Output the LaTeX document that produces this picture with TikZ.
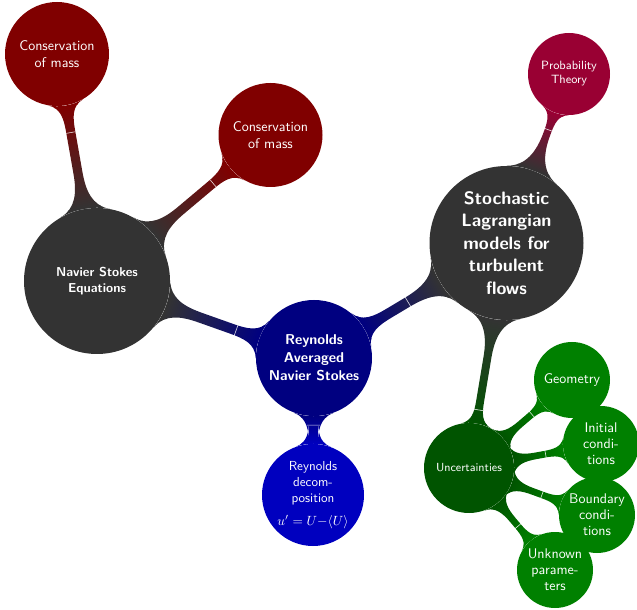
\documentclass[tikz,border=0pt]{standalone}
\usetikzlibrary{mindmap,calc}
\definecolor{ransblue}{RGB}{0,0,128}
\definecolor{decompblue}{RGB}{0,0,191}
\definecolor{coregray}{RGB}{51,51,51}
\definecolor{massred}{RGB}{128,0,0}
\definecolor{probpurple}{RGB}{153,0,51}
\definecolor{uncgreen}{RGB}{0,84,0}
\definecolor{leafgreen}{RGB}{0,128,0}
% thin light seam across a connection bar:
% #1 name, #2 parent, #3 fraction, #4 child, #5 half bar width
\newcommand{\seamtick}[5]{%
  \coordinate (#1) at ($(#2)!#3!(#4)$);
  \draw[seam] ($(#1)!#5!90:(#4)$) -- ($(#1)!#5!-90:(#4)$);}
\begin{document}
\begin{tikzpicture}[x=0.75pt,y=-0.75pt,
  bubble/.style={circle,inner sep=0pt,text=white,align=center,font=\sffamily},
  hub/.style={bubble,font=\sffamily\bfseries\fontsize{10.7}{13.5}\selectfont},
  leaf/.style={bubble,fill=leafgreen,minimum size=57pt,font=\sffamily\fontsize{10.5}{12}\selectfont},
  mass/.style={bubble,fill=massred,minimum size=78pt,font=\sffamily\fontsize{10.5}{12.75}\selectfont},
  wide bar/.style={line width=10pt},
  thin bar/.style={line width=6.75pt},
  seam/.style={draw=white,line width=0.45pt,opacity=0.85}]
\useasboundingbox (0,0) rectangle (637,610);

% concepts
\node[hub,fill=ransblue,minimum size=87pt] (rans) at (314,358) {Reynolds\\Averaged\\Navier Stokes};
\node[bubble,fill=decompblue,minimum size=76.5pt,font=\sffamily\fontsize{9.8}{12}\selectfont] (decomp) at (313,495)
  {Reynolds\\decom-\\position\\[5pt]$u'=U{-}\langle U\rangle$};
\node[hub,fill=coregray,minimum size=109.5pt,font=\sffamily\bfseries\fontsize{9.7}{12}\selectfont] (navier) at (97,281) {Navier Stokes\\Equations};
\node[mass] (massA) at (57,54) {Conservation\\of mass};
\node[mass] (massB) at (270.5,135) {Conservation\\of mass};
\node[hub,fill=coregray,minimum size=115.5pt,font=\sffamily\bfseries\fontsize{13.5}{16.9}\selectfont] (stoch) at (506.5,243)
  {Stochastic\\Lagrangian\\models for\\turbulent\\flows};
\node[bubble,fill=probpurple,minimum size=61.5pt,font=\sffamily\fontsize{9}{10.5}\selectfont] (prob) at (569,74) {Probability\\Theory};
\node[bubble,fill=uncgreen,minimum size=67.5pt,font=\sffamily\fontsize{8.8}{11}\selectfont] (unc) at (469,468) {Uncertainties};
\node[leaf] (geo) at (572,380) {Geometry};
\node[leaf] (init) at (601,444) {Initial\\condi-\\tions};
\node[leaf] (bound) at (597,515) {Boundary\\condi-\\tions};
\node[leaf] (unknown) at (555,570) {Unknown\\parame-\\ters};

% connections from the root
\begin{scope}[wide bar]
\path (rans) to[circle connection bar switch color=from (ransblue) to (coregray)] (navier);
\path (rans) to[circle connection bar switch color=from (ransblue) to (coregray)] (stoch);
\path (rans) to[circle connection bar switch color=from (ransblue) to (decompblue)] (decomp);
\end{scope}
% deeper connections
\begin{scope}[thin bar]
\path (navier) to[circle connection bar switch color=from (coregray) to (massred)] (massA);
\path (navier) to[circle connection bar switch color=from (coregray) to (massred)] (massB);
\path (stoch) to[circle connection bar switch color=from (coregray) to (probpurple)] (prob);
\path (stoch) to[circle connection bar switch color=from (coregray) to (uncgreen)] (unc);
\path (unc) to[circle connection bar switch color=from (uncgreen) to (leafgreen)] (geo);
\path (unc) to[circle connection bar switch color=from (uncgreen) to (leafgreen)] (init);
\path (unc) to[circle connection bar switch color=from (uncgreen) to (leafgreen)] (bound);
\path (unc) to[circle connection bar switch color=from (uncgreen) to (leafgreen)] (unknown);
\end{scope}

% seams across the bars
\seamtick{s1}{rans}{0.359}{navier}{5pt}
\seamtick{s2}{rans}{0.488}{stoch}{5pt}
\seamtick{s3}{rans}{0.49}{decomp}{5pt}
\seamtick{s4}{navier}{0.654}{massA}{3.4pt}
\seamtick{s5}{navier}{0.669}{massB}{3.4pt}
\seamtick{s6}{stoch}{0.67}{prob}{3.4pt}
\seamtick{s7}{stoch}{0.742}{unc}{3.4pt}
\seamtick{s8}{unc}{0.61}{geo}{3.4pt}
\seamtick{s9}{unc}{0.58}{init}{3.4pt}
\seamtick{s10}{unc}{0.57}{bound}{3.4pt}
\seamtick{s11}{unc}{0.57}{unknown}{3.4pt}
\end{tikzpicture}
\end{document}
